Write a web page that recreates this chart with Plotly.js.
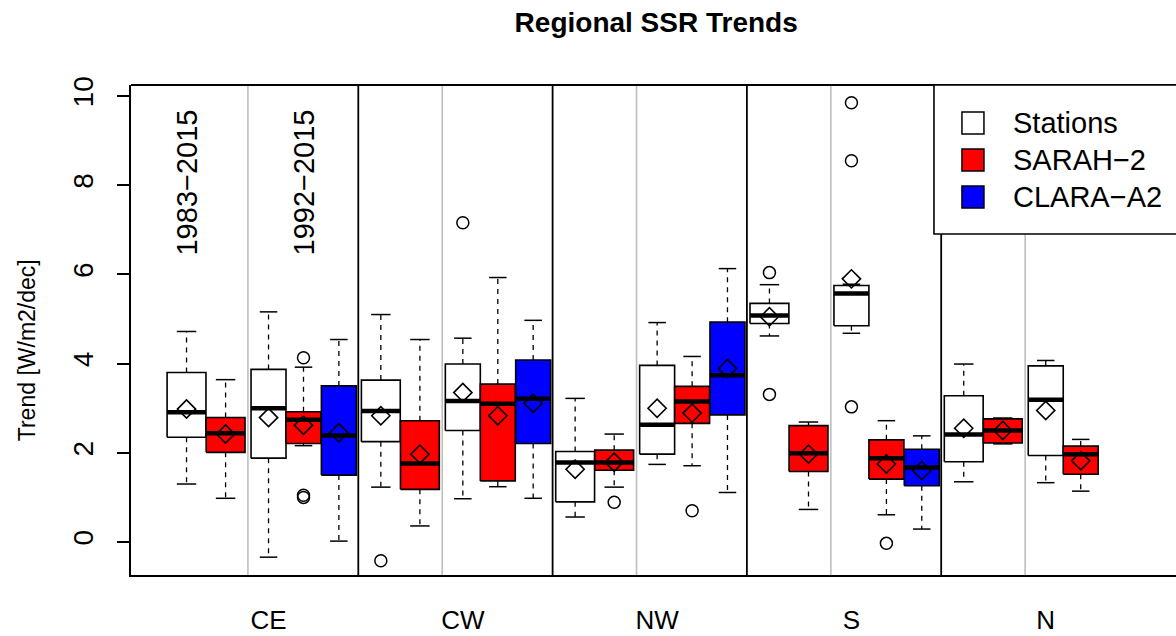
<!DOCTYPE html>
<html>
<head>
<meta charset="utf-8">
<script src="https://cdn.plot.ly/plotly-3.0.1.min.js"></script>
<style>html,body{margin:0;padding:0;background:#fff;}#chart{width:1176px;height:636px;}</style>
</head>
<body>
<div id="chart"></div>
<script>
// ---------------- DATA ----------------
const regions = ["CE", "CW", "NW", "S", "N"];
const seriesNames = ["Stations", "SARAH\u22122", "CLARA\u2212A2"];
const seriesColors = ["#FFFFFF", "#FF0000", "#0000FF"];
const periods = ["1983\u22122015", "1992\u22122015"];
const yTicks = [0, 2, 4, 6, 8, 10];

// Stations 1983-2015 (per region: CE, CW, NW, S, N)
const st83_lo   = [1.30, 1.23, 0.56, 4.62, 1.35];
const st83_q1   = [2.35, 2.25, 0.90, 4.90, 1.80];
const st83_med  = [2.91, 2.94, 1.78, 5.08, 2.41];
const st83_q3   = [3.80, 3.63, 2.03, 5.35, 3.28];
const st83_hi   = [4.72, 5.10, 3.22, 5.77, 3.99];
const st83_mean = [2.98, 2.83, 1.63, 5.05, 2.55];
const st83_out  = [[], [-0.42], [], [6.04, 3.31], []];

// SARAH-2 1983-2015
const sa83_lo   = [0.98, 0.36, 1.23, 0.73, 2.20];
const sa83_q1   = [2.01, 1.18, 1.61, 1.58, 2.22];
const sa83_med  = [2.44, 1.76, 1.78, 1.99, 2.50];
const sa83_q3   = [2.79, 2.72, 2.06, 2.61, 2.76];
const sa83_hi   = [3.64, 4.54, 2.42, 2.69, 2.78];
const sa83_mean = [2.42, 1.97, 1.79, 1.97, 2.50];
const sa83_out  = [[], [], [0.89], [], []];

// Stations 1992-2015
const st92_lo   = [-0.34, 0.97, 1.74, 4.68, 1.33];
const st92_q1   = [1.88, 2.50, 1.97, 4.85, 1.94];
const st92_med  = [3.00, 3.16, 2.63, 5.57, 3.19];
const st92_q3   = [3.87, 3.99, 3.96, 5.75, 3.95];
const st92_hi   = [5.16, 4.57, 4.92, 5.78, 4.07];
const st92_mean = [2.79, 3.35, 3.00, 5.90, 2.95];
const st92_out  = [[], [7.16], [], [9.85, 8.55, 3.03], []];

// SARAH-2 1992-2015
const sa92_lo   = [2.16, 1.24, 1.71, 0.61, 1.14];
const sa92_q1   = [2.21, 1.37, 2.66, 1.41, 1.52];
const sa92_med  = [2.74, 3.10, 3.15, 1.88, 1.97];
const sa92_q3   = [2.92, 3.54, 3.49, 2.29, 2.15];
const sa92_hi   = [3.92, 5.93, 4.16, 2.72, 2.30];
const sa92_mean = [2.62, 2.83, 2.89, 1.75, 1.82];
const sa92_out  = [[4.13, 1.05, 1.00], [], [0.70], [-0.03], []];

// CLARA-A2 1992-2015 (no data for N)
const cl92_lo   = [0.02, 0.98, 1.11, 0.29, null];
const cl92_q1   = [1.50, 2.21, 2.85, 1.26, null];
const cl92_med  = [2.39, 3.21, 3.74, 1.67, null];
const cl92_q3   = [3.50, 4.08, 4.93, 2.08, null];
const cl92_hi   = [4.54, 4.97, 6.13, 2.38, null];
const cl92_mean = [2.45, 3.11, 3.89, 1.60, null];
const cl92_out  = [[], [], [], [], []];

// ---------------- LAYOUT CONSTANTS ----------------
// x unit = one region; offsets of each box inside a region
const groups = [
  {series: 0, off: 0.116, hw: 0.100, lo: st83_lo, q1: st83_q1, med: st83_med, q3: st83_q3, hi: st83_hi, mean: st83_mean, out: st83_out},
  {series: 1, off: 0.317, hw: 0.100, lo: sa83_lo, q1: sa83_q1, med: sa83_med, q3: sa83_q3, hi: sa83_hi, mean: sa83_mean, out: sa83_out},
  {series: 0, off: 0.538, hw: 0.090, lo: st92_lo, q1: st92_q1, med: st92_med, q3: st92_q3, hi: st92_hi, mean: st92_mean, out: st92_out},
  {series: 1, off: 0.718, hw: 0.090, lo: sa92_lo, q1: sa92_q1, med: sa92_med, q3: sa92_q3, hi: sa92_hi, mean: sa92_mean, out: sa92_out},
  {series: 2, off: 0.900, hw: 0.090, lo: cl92_lo, q1: cl92_q1, med: cl92_med, q3: cl92_q3, hi: cl92_hi, mean: cl92_mean, out: cl92_out}
];
const grayOff = 0.432;
const FONT = "Liberation Sans, Arial, Helvetica, sans-serif";

const traces = [];
const meanX = [], meanY = [], outX = [], outY = [];

groups.forEach(g => {
  regions.forEach((reg, r) => {
    if (g.med[r] === null) return;
    const c = r + g.off, l = c - g.hw, rt = c + g.hw, s = g.hw / 2;
    // whiskers (dashed)
    traces.push({type: "scatter", mode: "lines", hoverinfo: "skip", showlegend: false,
      x: [c, c, null, c, c], y: [g.q3[r], g.hi[r], null, g.q1[r], g.lo[r]],
      line: {color: "#000", width: 1.3, dash: "5px,5px"}});
    // staples
    traces.push({type: "scatter", mode: "lines", hoverinfo: "skip", showlegend: false,
      x: [c - s, c + s, null, c - s, c + s], y: [g.hi[r], g.hi[r], null, g.lo[r], g.lo[r]],
      line: {color: "#000", width: 1.5}});
    // box
    traces.push({type: "scatter", mode: "lines", fill: "toself", fillcolor: seriesColors[g.series],
      name: seriesNames[g.series] + " " + reg, showlegend: false,
      x: [l, rt, rt, l, l], y: [g.q1[r], g.q1[r], g.q3[r], g.q3[r], g.q1[r]],
      line: {color: "#000", width: 1.6}});
    // median
    traces.push({type: "scatter", mode: "lines", hoverinfo: "skip", showlegend: false,
      x: [l, rt], y: [g.med[r], g.med[r]],
      line: {color: "#000", width: 4.5}});
    meanX.push(c); meanY.push(g.mean[r]);
    g.out[r].forEach(v => { outX.push(c); outY.push(v); });
  });
});

traces.push({type: "scatter", mode: "markers", x: outX, y: outY, showlegend: false, name: "outliers",
  marker: {symbol: "circle-open", size: 12, color: "#000", line: {width: 1.5, color: "#000"}}});
traces.push({type: "scatter", mode: "markers", x: meanX, y: meanY, showlegend: false, name: "mean",
  marker: {symbol: "diamond-open", size: 14, color: "#000", line: {width: 1.6, color: "#000"}}});

// ---------------- SHAPES & ANNOTATIONS ----------------
const shapes = [];
for (let r = 1; r < regions.length; r++) {
  shapes.push({type: "line", xref: "x", yref: "paper", x0: r, x1: r, y0: 0, y1: 1,
    layer: "below", line: {color: "#000", width: 1.8}});
}
regions.forEach((reg, r) => {
  shapes.push({type: "line", xref: "x", yref: "paper", x0: r + grayOff, x1: r + grayOff, y0: 0, y1: 1,
    layer: "below", line: {color: "#BEBEBE", width: 1.6}});
});
// top border
shapes.push({type: "line", xref: "paper", yref: "paper", x0: 0, x1: 1.01, y0: 1, y1: 1,
  layer: "above", line: {color: "#000", width: 2}});
// legend box
shapes.push({type: "rect", xref: "paper", yref: "paper", x0: 0.7684, x1: 1.02, y0: 0.6959, y1: 1,
  layer: "above", fillcolor: "#FFFFFF", line: {color: "#000", width: 1.6}});
const legRows = [0.9224, 0.8469, 0.7714];
const annotations = [];
seriesNames.forEach((nm, i) => {
  shapes.push({type: "rect", xref: "paper", yref: "paper", xsizemode: "pixel", ysizemode: "pixel",
    xanchor: 0.8057, yanchor: legRows[i], x0: -11, x1: 11, y0: -11, y1: 11,
    layer: "above", fillcolor: seriesColors[i], line: {color: "#000", width: 1.5}});
  annotations.push({xref: "paper", yref: "paper", x: 0.8420, y: legRows[i], xanchor: "left", yanchor: "middle",
    text: nm, showarrow: false, font: {family: FONT, size: 29, color: "#000"}});
});
// period labels
annotations.push({xref: "x", yref: "y", x: groups[0].off, y: 8.05, text: periods[0], textangle: -90,
  showarrow: false, font: {family: FONT, size: 29, color: "#000"}});
annotations.push({xref: "x", yref: "y", x: groups[3].off, y: 8.05, text: periods[1], textangle: -90,
  showarrow: false, font: {family: FONT, size: 29, color: "#000"}});
// y axis title
annotations.push({xref: "paper", yref: "y", x: 0, xshift: -104, xanchor: "center", yanchor: "middle",
  y: 4.3, text: "Trend [W/m2/dec]", textangle: -90,
  showarrow: false, font: {family: FONT, size: 23, color: "#000"}});

const layout = {
  width: 1176, height: 636,
  margin: {l: 131, r: 0, t: 85, b: 61, pad: 0},
  paper_bgcolor: "#FFFFFF", plot_bgcolor: "#FFFFFF",
  font: {family: FONT, color: "#000"},
  title: {text: "<b>Regional SSR Trends</b>", font: {family: FONT, size: 28, color: "#000"},
    xref: "container", yref: "container", x: 0.558, xanchor: "center", y: 0.9654, yanchor: "middle"},
  showlegend: false,
  xaxis: {range: [-0.1698, 5.2084], showgrid: false, zeroline: false, showline: true, linecolor: "#000", linewidth: 2,
    ticks: "", tickmode: "array", tickvals: regions.map((_, r) => r + groups[2].off), ticktext: regions,
    tickfont: {family: FONT, size: 26, color: "#000"}, ticklabelstandoff: 21, fixedrange: true},
  yaxis: {range: [-0.740, 10.247], showgrid: false, zeroline: false, showline: true, linecolor: "#000", linewidth: 2,
    ticks: "outside", ticklen: 12, tickwidth: 2, tickcolor: "#000", tickmode: "array", tickvals: yTicks,
    ticktext: yTicks.map(String), tickangle: -90, tickfont: {family: FONT, size: 28, color: "#000"},
    ticklabelstandoff: 13, fixedrange: true},
  shapes: shapes,
  annotations: annotations
};

Plotly.newPlot("chart", traces, layout, {displayModeBar: false, staticPlot: true});
</script>
</body>
</html>
